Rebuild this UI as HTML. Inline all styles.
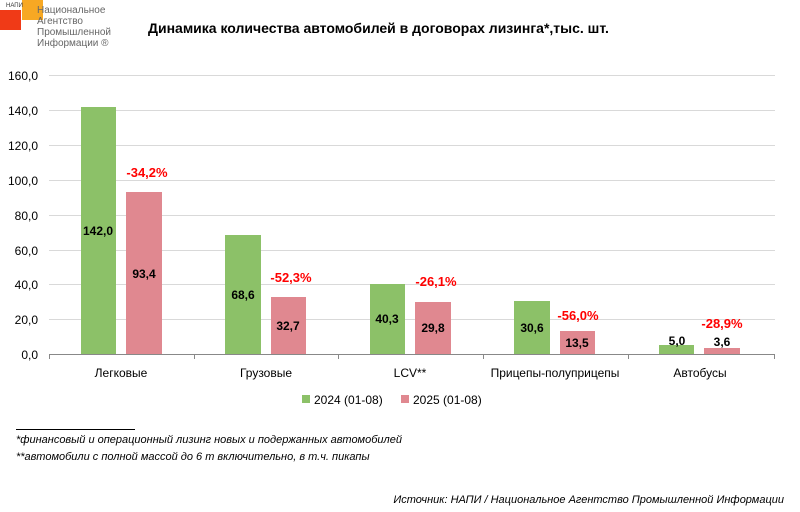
<!DOCTYPE html>
<html><head><meta charset="utf-8"><style>
body{margin:0;width:800px;height:512px;background:#fff;font-family:"Liberation Sans",sans-serif;position:relative;overflow:hidden}
.a{position:absolute;white-space:nowrap}
</style></head><body>
<div class="a" style="left:0;top:10px;width:21px;height:20px;background:#f03a17"></div>
<div class="a" style="left:22px;top:0;width:21px;height:20px;background:#f7a823"></div>
<div class="a" style="left:6px;top:3px;font-size:6px;color:#333">НАПИ</div>
<div class="a" style="left:37px;top:5px;font-size:10px;line-height:11px;color:#666;font-family:'Liberation Sans Narrow','Liberation Sans',sans-serif">Национальное<br>Агентство<br>Промышленной<br>Информации ®</div>
<div class="a" style="left:148px;top:20px;font-size:14px;font-weight:bold;color:#000">Динамика количества автомобилей в договорах лизинга*,тыс. шт.</div>
<svg class="a" style="left:0;top:0" width="800" height="512">
<g stroke="#d9d9d9" stroke-width="1">
<line x1="49" x2="775" y1="75.5" y2="75.5"/><line x1="49" x2="775" y1="110.5" y2="110.5"/>
<line x1="49" x2="775" y1="145.5" y2="145.5"/><line x1="49" x2="775" y1="180.5" y2="180.5"/>
<line x1="49" x2="775" y1="215.5" y2="215.5"/><line x1="49" x2="775" y1="250.5" y2="250.5"/>
<line x1="49" x2="775" y1="284.5" y2="284.5"/><line x1="49" x2="775" y1="319.5" y2="319.5"/>
</g>
<g stroke="#888"><line x1="49" x2="775" y1="354.5" y2="354.5"/>
<line x1="49.5" x2="49.5" y1="354" y2="359"/><line x1="194.5" x2="194.5" y1="354" y2="359"/><line x1="338.5" x2="338.5" y1="354" y2="359"/><line x1="483.5" x2="483.5" y1="354" y2="359"/><line x1="628.5" x2="628.5" y1="354" y2="359"/><line x1="774.5" x2="774.5" y1="354" y2="359"/></g>
<g font-size="12" fill="#000" text-anchor="end">
<text x="38" y="80">160,0</text><text x="38" y="115">140,0</text><text x="38" y="150">120,0</text><text x="38" y="185">100,0</text><text x="38" y="220">80,0</text><text x="38" y="255">60,0</text><text x="38" y="289">40,0</text><text x="38" y="324">20,0</text><text x="38" y="359">0,0</text>
</g>
<g fill="#8cc168">
<rect x="81" y="107" width="35" height="247"/><rect x="225" y="235" width="36" height="119"/><rect x="370" y="284" width="35" height="70"/><rect x="514" y="301" width="36" height="53"/><rect x="659" y="345" width="35" height="9"/>
</g>
<g fill="#e08890">
<rect x="126" y="192" width="36" height="162"/><rect x="271" y="297" width="35" height="57"/><rect x="415" y="302" width="36" height="52"/><rect x="560" y="331" width="35" height="23"/><rect x="704" y="348" width="36" height="6"/>
</g>
<g font-size="12" font-weight="bold" text-anchor="middle" fill="#000">
<text x="98" y="235">142,0</text><text x="144" y="278">93,4</text>
<text x="243" y="299">68,6</text><text x="288" y="330">32,7</text>
<text x="387" y="323">40,3</text><text x="433" y="332">29,8</text>
<text x="532" y="332">30,6</text><text x="577" y="347">13,5</text>
<text x="677" y="345">5,0</text><text x="722" y="346">3,6</text>
</g>
<g font-size="13" font-weight="bold" text-anchor="middle" fill="#ff0000">
<text x="147" y="177">-34,2%</text><text x="291" y="282">-52,3%</text><text x="436" y="286">-26,1%</text><text x="578" y="320">-56,0%</text><text x="722" y="328">-28,9%</text>
</g>
<g font-size="12" text-anchor="middle" fill="#000">
<text x="121" y="377">Легковые</text><text x="266" y="377">Грузовые</text><text x="410" y="377">LCV**</text><text x="555" y="377">Прицепы-полуприцепы</text><text x="700" y="377">Автобусы</text>
</g>
<rect x="302" y="395" width="8" height="8" fill="#8cc168"/><text x="314" y="404" font-size="12">2024 (01-08)</text>
<rect x="401" y="395" width="8" height="8" fill="#e08890"/><text x="413" y="404" font-size="12">2025 (01-08)</text>
<line x1="16" x2="135" y1="429.5" y2="429.5" stroke="#000" stroke-width="1"/>
<g font-size="11" font-style="italic" fill="#000">
<text x="16" y="443">*финансовый и операционный лизинг новых и подержанных автомобилей</text>
<text x="16" y="460">**автомобили с полной массой до 6 т включительно, в т.ч. пикапы</text>
<text x="784" y="503" text-anchor="end">Источник: НАПИ / Национальное Агентство Промышленной Информации</text>
</g>
</svg>
</body></html>
